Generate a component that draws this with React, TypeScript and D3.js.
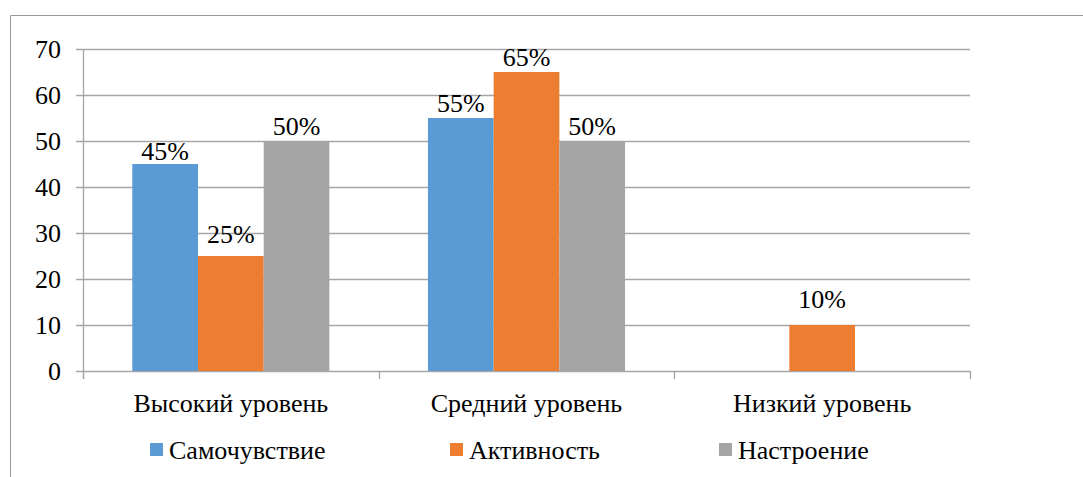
import React from "react";
import * as d3 from "d3";

const categories = ["Высокий уровень", "Средний уровень", "Низкий уровень"];
const seriesNames = ["Самочувствие", "Активность", "Настроение"];
const samochuvstvie = [45, 55, null];
const aktivnost = [25, 65, 10];
const nastroenie = [50, 50, null];
const yTicks = [0, 10, 20, 30, 40, 50, 60, 70];
const colors = ["#5B9BD5", "#ED7D31", "#A5A5A5"];

// vertical gap (px) between each bar top and its value label, per series
const labelGap = [
  [4, 6, 6],
  [13, 6, 17],
  [6, 6, 6],
];

const W = 1083;
const H = 477;
const FS = 26;

export default function App() {
  const series = [samochuvstvie, aktivnost, nastroenie];
  const x0 = d3.scaleBand<string>().domain(categories).range([83, 970]).paddingInner(0).paddingOuter(0);
  const inner = x0.bandwidth();
  const barW = inner / (3 + 1.5);
  const x1 = d3.scaleBand<string>().domain(seriesNames).range([0, barW * 3]);
  const y = d3.scaleLinear().domain([0, 70]).range([371, 49]);

  const legendX = [150, 450, 719];
  const gridColor = "#a6a6a6";
  const txt = { fontFamily: "Times New Roman", fontSize: FS };

  return (
    <div style={{ position: "absolute", left: 0, top: 0, width: W, height: H, fontFamily: "Times New Roman" }}>
      <svg width={W} height={H} fontFamily="Times New Roman" fontSize={FS}>
        {/* outer frame */}
        <line x1={10.5} y1={15.5} x2={W} y2={15.5} stroke="#9a9a9a" strokeWidth={1} />
        <line x1={10.5} y1={15.5} x2={10.5} y2={H} stroke="#9a9a9a" strokeWidth={1} />

        {/* gridlines + y ticks */}
        {yTicks.map((t) => (
          <g key={t}>
            <line x1={76} x2={970} y1={Math.round(y(t)) + 0.5} y2={Math.round(y(t)) + 0.5} stroke={gridColor} strokeWidth={1.3} />
            <text style={txt} x={61} y={y(t)} dy="0.35em" textAnchor="end">
              {t}
            </text>
          </g>
        ))}
        {/* y axis line */}
        <line x1={83.5} x2={83.5} y1={y(70)} y2={379} stroke={gridColor} strokeWidth={1.3} />
        {/* category tick marks */}
        {[0, 1, 2, 3].map((i) => {
          const xx = Math.round(83 + i * inner) + 0.5;
          return <line key={i} x1={xx} x2={xx} y1={y(0)} y2={379} stroke={gridColor} strokeWidth={1.3} />;
        })}

        {/* bars */}
        {categories.map((c, ci) => {
          const gx = (x0(c) as number) + (inner - barW * 3) / 2;
          return (
            <g key={c}>
              {series.map((s, si) => {
                const v = s[ci];
                if (v == null) return null;
                const bx = gx + (x1(seriesNames[si]) as number);
                return (
                  <g key={si}>
                    <rect x={bx} y={y(v)} width={barW} height={y(0) - y(v)} fill={colors[si]} />
                    <text style={txt} x={bx + barW / 2} y={y(v) - labelGap[si][ci]} textAnchor="middle">
                      {v}%
                    </text>
                  </g>
                );
              })}
              <text style={txt} x={(x0(c) as number) + inner / 2} y={412} textAnchor="middle">
                {c}
              </text>
            </g>
          );
        })}

        {/* legend */}
        {seriesNames.map((n, i) => (
          <g key={n}>
            <rect x={legendX[i]} y={443} width={13} height={13} fill={colors[i]} />
            <text style={txt} x={legendX[i] + 19} y={459}>
              {n}
            </text>
          </g>
        ))}
      </svg>
    </div>
  );
}
